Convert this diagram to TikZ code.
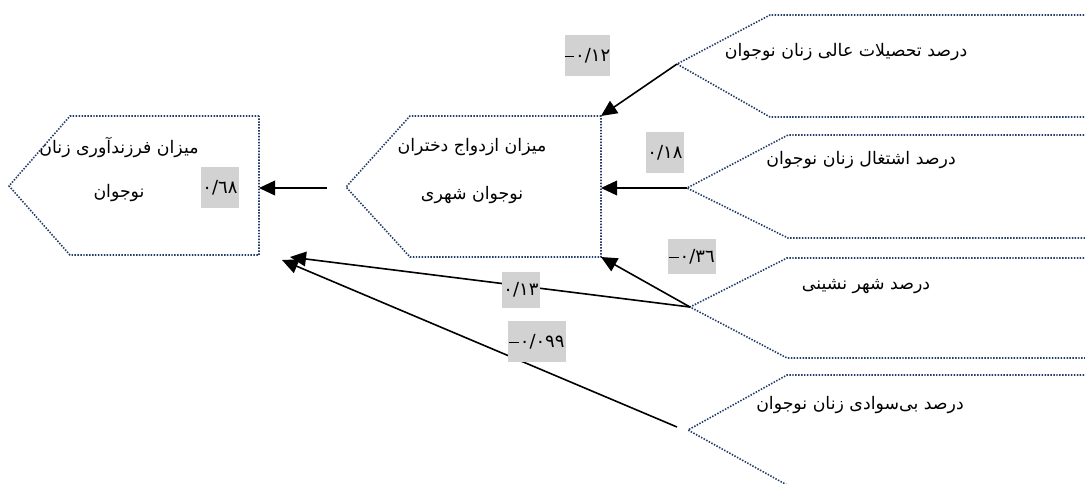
\documentclass[tikz,border=0pt]{standalone}
\usepackage{fontspec}
\newfontfamily\arabicfont[Script=Arabic]{DejaVu Sans}
\TeXXeTstate=1
\usetikzlibrary{arrows.meta}
\definecolor{dotblue}{RGB}{35,60,105}
\definecolor{lblgray}{RGB}{210,210,210}
\newcommand{\mneg}[1]{\hbox{\rule[3.2pt]{7pt}{0.8pt}\kern0.8pt}\hbox{#1}}
\begin{document}
\begin{tikzpicture}[x=0.75pt,y=-0.75pt,
  box/.style={draw=dotblue, line width=1.2pt, dash pattern=on 1.1pt off 1.1pt},
  conn/.style={-{Triangle[length=12pt,width=11pt]}, line width=1.2pt},
  lbl/.style={fill=lblgray, inner sep=0pt, font=\arabicfont\fontsize{13.5}{15}\selectfont},
  txt/.style={font=\arabicfont\fontsize{13}{15}\selectfont, inner sep=0pt}]
\useasboundingbox (0,0) rectangle (1085,483);
\clip (0,0) rectangle (1085,483);
% coordinates
\coordinate (b1tip) at (9,186);
\coordinate (b1in) at (259,188);
\coordinate (b1low) at (290,257);
\coordinate (b1low2) at (282,260);
\coordinate (b2tip) at (346,187);
\coordinate (b2out) at (327,188);
\coordinate (b2tr) at (601,116);
\coordinate (b2in) at (601,188);
\coordinate (b2br) at (601,257);
\coordinate (b3tip) at (677,64);
\coordinate (b4tip) at (687,188);
\coordinate (b5tip) at (690,307);
\coordinate (b6tip) at (688,430);
\coordinate (b6out) at (677,427);
% boxes
\draw[box] (259,116) -- (70,116) -- (b1tip) -- (70,255) -- (259,255) -- cycle;
\draw[box] (b2tr) -- (410,116) -- (b2tip) -- (410,257) -- (b2br) -- cycle;
\draw[box] (1090,15) -- (770,15) -- (b3tip) -- (770,117) -- (1090,117);
\draw[box] (1090,135) -- (788,135) -- (b4tip) -- (788,238) -- (1090,238);
\draw[box] (1090,258) -- (787,258) -- (b5tip) -- (787,358) -- (1090,358);
\draw[box] (1090,375) -- (787,375) -- (b6tip) -- (787,485) -- (1090,485);
% texts
\node[txt] (t1a) at (119,147) {\beginR میزان فرزندآوری زنان\endR};
\node[txt] (t1b) at (119,193) {\beginR نوجوان\endR};
\node[txt] (t2a) at (472,147) {\beginR میزان ازدواج دختران\endR};
\node[txt] (t2b) at (472,195) {\beginR نوجوان شهری\endR};
\node[txt] (t3) at (846,52) {\beginR درصد تحصیلات عالی زنان نوجوان\endR};
\node[txt] (t4) at (861,160) {\beginR درصد اشتغال زنان نوجوان\endR};
\node[txt] (t5) at (866,287) {\beginR درصد شهر نشینی\endR};
\node[txt] (t6) at (860,405) {\beginR درصد بی‌سوادی زنان نوجوان\endR};
% connectors
\draw[conn] (b2out) -- (b1in);
\draw[conn] (b3tip) -- (b2tr);
\draw[conn] (b4tip) -- (b2in);
\draw[conn] (b5tip) -- (b2br);
\draw[conn] (b5tip) -- (b1low);
\draw[conn] (b6out) -- (b1low2);
% labels
\node[lbl, minimum width=28.5pt, minimum height=31pt] (l1) at (220,187.5) {٠/٦٨};
\node[lbl, minimum width=34pt, minimum height=31pt] (l2) at (587.5,55.5) {\mneg{٠/١٢}};
\node[lbl, minimum width=28.5pt, minimum height=31pt] (l3) at (665,152.5) {٠/١٨};
\node[lbl, minimum width=36pt, minimum height=26pt] (l4) at (692,256.5) {\mneg{٠/٣٦}};
\node[lbl, minimum width=28.5pt, minimum height=27pt] (l5) at (521,290) {٠/١٣};
\node[lbl, minimum width=43.5pt, minimum height=31pt] (l6) at (537,341.5) {\mneg{٠/٠٩٩}};
\end{tikzpicture}
\end{document}
